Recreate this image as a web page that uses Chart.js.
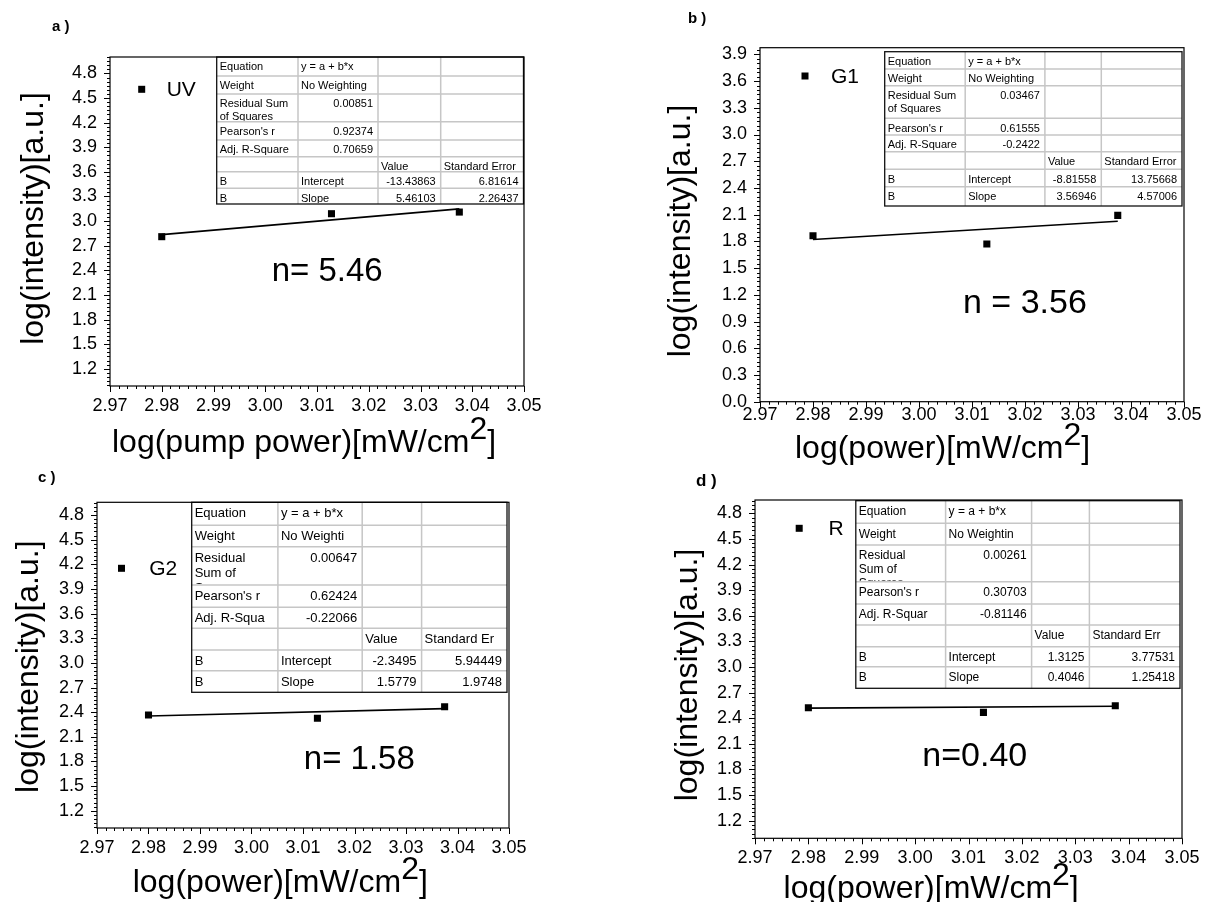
<!DOCTYPE html>
<html><head><meta charset="utf-8">
<script src="https://cdn.jsdelivr.net/npm/chart.js@4.4.0/dist/chart.umd.min.js"></script>
<style>
html,body{margin:0;padding:0;background:#fff;}
#wrap{position:relative;width:1213px;height:902px;overflow:hidden;background:#fff;}
canvas{position:absolute;left:0;top:0;}
</style></head><body><div id="wrap">
<canvas id="pa" width="1213" height="902"></canvas>
<canvas id="pb" width="1213" height="902"></canvas>
<canvas id="pc" width="1213" height="902"></canvas>
<canvas id="pd" width="1213" height="902"></canvas>
</div>
<script>
// ---------------- DATA ----------------
const xPower = [2.98, 3.0128, 3.0375];
const uvIntensity = [2.81, 3.09, 3.11];
const g1Intensity = [1.864, 1.770, 2.092];
const g2Intensity = [2.365, 2.325, 2.466];
const rIntensity = [2.523, 2.469, 2.547];

const fitX = [2.98, 3.0375];
const uvFit = [2.835, 3.149];
const g1Fit = [1.821, 2.027];
const g2Fit = [2.353, 2.443];
const rFit = [2.518, 2.541];

const seriesNames = ['UV', 'G1', 'G2', 'R'];
const slopeLabels = ['n= 5.46', 'n = 3.56', 'n= 1.58', 'n=0.40'];
const panelLetters = ['a )', 'b )', 'c )', 'd )'];

const xTickValues = [2.97, 2.98, 2.99, 3.00, 3.01, 3.02, 3.03, 3.04, 3.05];
const yTicksHigh = [1.2, 1.5, 1.8, 2.1, 2.4, 2.7, 3.0, 3.3, 3.6, 3.9, 4.2, 4.5, 4.8];
const yTicksLow = [0.0, 0.3, 0.6, 0.9, 1.2, 1.5, 1.8, 2.1, 2.4, 2.7, 3.0, 3.3, 3.6, 3.9];

const yTitleText = 'log(intensity)[a.u.]';
const xTitlePump = 'log(pump power)[mW/cm';
const xTitlePower = 'log(power)[mW/cm';
const xTitleSup = '2';
const xTitleEnd = ']';

const tableA = [
  ['Equation', 'y = a + b*x', '', ''],
  ['Weight', 'No Weighting', '', ''],
  ['Residual Sum\nof Squares', '0.00851', '', ''],
  ["Pearson's r", '0.92374', '', ''],
  ['Adj. R-Square', '0.70659', '', ''],
  ['', '', 'Value', 'Standard Error'],
  ['B', 'Intercept', '-13.43863', '6.81614'],
  ['B', 'Slope', '5.46103', '2.26437']
];
const tableB = [
  ['Equation', 'y = a + b*x', '', ''],
  ['Weight', 'No Weighting', '', ''],
  ['Residual Sum\nof Squares', '0.03467', '', ''],
  ["Pearson's r", '0.61555', '', ''],
  ['Adj. R-Square', '-0.2422', '', ''],
  ['', '', 'Value', 'Standard Error'],
  ['B', 'Intercept', '-8.81558', '13.75668'],
  ['B', 'Slope', '3.56946', '4.57006']
];
const tableC = [
  ['Equation', 'y = a + b*x', '', ''],
  ['Weight', 'No Weighti', '', ''],
  ['Residual\nSum of\nSquares', '0.00647', '', ''],
  ["Pearson's r", '0.62424', '', ''],
  ['Adj. R-Squa', '-0.22066', '', ''],
  ['', '', 'Value', 'Standard Er'],
  ['B', 'Intercept', '-2.3495', '5.94449'],
  ['B', 'Slope', '1.5779', '1.9748']
];
const tableD = [
  ['Equation', 'y = a + b*x', '', ''],
  ['Weight', 'No Weightin', '', ''],
  ['Residual\nSum of\nSquares', '0.00261', '', ''],
  ["Pearson's r", '0.30703', '', ''],
  ['Adj. R-Squar', '-0.81146', '', ''],
  ['', '', 'Value', 'Standard Err'],
  ['B', 'Intercept', '1.3125', '3.77531'],
  ['B', 'Slope', '0.4046', '1.25418']
];

// ---------------- LAYOUT ----------------
const FONT = "'Liberation Sans', Arial, Helvetica, sans-serif";
const YW = 60, XH = 40, PAGE_W = 1213, PAGE_H = 902;

const panels = {
  pa: {
    idx: 0, y: uvIntensity, fit: uvFit, yMin: 0.99, yMax: 5.0, yTicks: yTicksHigh, yDec: 1, xPad: 3,
    box: { l: 110, t: 57, r: 524, b: 386 },
    table: tableA, tFont: 11,
    cols: [216.7, 298, 378, 440.7, 523.5],
    rows: [57, 76, 94, 121.7, 140, 156.7, 171.7, 188.3, 204],
    letter: { x: 52, y: 31, size: 15 },
    legend: { sx: 141.7, sy: 89.3, tx: 166.7, size: 21 },
    nLab: { x: 271.7, y: 271.7, size: 33 },
    yTitle: { x: 34, y: 218.5 },
    xTitle: { x: 112, y: 452, text: xTitlePump }
  },
  pb: {
    idx: 1, y: g1Intensity, fit: g1Fit, yMin: 0.0, yMax: 3.975, yTicks: yTicksLow, yDec: 1, xPad: -3,
    box: { l: 760, t: 47.7, r: 1184, b: 401.7 },
    table: tableB, tFont: 11,
    cols: [884.7, 965.2, 1044.9, 1101.3, 1182],
    rows: [51.7, 69, 85.7, 118.3, 135, 151.7, 169.3, 186.7, 206],
    letter: { x: 688, y: 23, size: 15 },
    legend: { sx: 805, sy: 76, tx: 831, size: 21 },
    nLab: { x: 963, y: 303.3, size: 34 },
    yTitle: { x: 681, y: 231 },
    xTitle: { x: 795, y: 458, text: xTitlePower }
  },
  pc: {
    idx: 2, y: g2Intensity, fit: g2Fit, yMin: 0.99, yMax: 4.955, yTicks: yTicksHigh, yDec: 1, xPad: 3,
    box: { l: 97, t: 502.3, r: 509, b: 828 },
    table: tableC, tFont: 13,
    cols: [191.7, 277.9, 362.2, 421.6, 507],
    rows: [502.3, 525.3, 546.7, 585, 607.3, 628.3, 650, 670.7, 692.3],
    letter: { x: 38, y: 482, size: 15 },
    legend: { sx: 121.5, sy: 568.3, tx: 149.2, size: 21 },
    nLab: { x: 303.8, y: 760, size: 33 },
    yTitle: { x: 29, y: 666.7 },
    xTitle: { x: 132.7, y: 892, text: xTitlePower }
  },
  pd: {
    idx: 3, y: rIntensity, fit: rFit, yMin: 0.994, yMax: 4.956, yTicks: yTicksHigh, yDec: 1, xPad: 3,
    box: { l: 755, t: 500, r: 1182, b: 838.3 },
    table: tableD, tFont: 12,
    cols: [855.8, 945.6, 1031.6, 1089.4, 1180],
    rows: [500.7, 523.3, 545, 581.7, 604, 625, 646.7, 666.7, 688.3],
    letter: { x: 696, y: 486, size: 17 },
    legend: { sx: 799.2, sy: 528.3, tx: 828.5, size: 21 },
    nLab: { x: 922.3, y: 756.7, size: 34 },
    yTitle: { x: 688, y: 675 },
    xTitle: { x: 783.6, y: 898, text: xTitlePower }
  }
};

function pts(xs, ys) { return xs.map((x, i) => ({ x: x, y: ys[i] })); }

function drawTable(ctx, P) {
  const cx = P.cols, ry = P.rows, rows = P.table, fs = P.tFont;
  const L = cx[0], R = cx[cx.length - 1], T = ry[0], B = ry[ry.length - 1];
  ctx.save();
  ctx.fillStyle = '#fff';
  ctx.fillRect(L, T, R - L, B - T);
  ctx.strokeStyle = '#c6c6c6';
  ctx.lineWidth = 1.5;
  ctx.beginPath();
  for (let i = 1; i < cx.length - 1; i++) { ctx.moveTo(cx[i], T); ctx.lineTo(cx[i], B); }
  for (let j = 1; j < ry.length - 1; j++) { ctx.moveTo(L, ry[j]); ctx.lineTo(R, ry[j]); }
  ctx.stroke();
  ctx.strokeStyle = '#111';
  ctx.lineWidth = 1.3;
  ctx.strokeRect(L, T, R - L, B - T);
  ctx.fillStyle = '#000';
  ctx.font = fs + 'px ' + FONT;
  ctx.textBaseline = 'alphabetic';
  for (let r = 0; r < rows.length; r++) {
    for (let c = 0; c < rows[r].length; c++) {
      const txt = rows[r][c];
      if (!txt) continue;
      const x0 = cx[c], x1 = cx[c + 1], y0 = ry[r], y1 = ry[r + 1];
      ctx.save();
      ctx.beginPath();
      ctx.rect(x0 + 1, y0 + 1, x1 - x0 - 2, y1 - y0 - 2);
      ctx.clip();
      const numeric = /^-?[0-9.]+$/.test(txt);
      ctx.textAlign = numeric ? 'right' : 'left';
      const tx = numeric ? x1 - 5 : x0 + 3;
      const lines = txt.split('\n');
      lines.forEach((ln, k) => {
        ctx.fillText(ln, tx, y0 + 4 + fs * 0.86 + k * fs * 1.15);
      });
      ctx.restore();
    }
  }
  ctx.restore();
}

const decor = {
  id: 'decor',
  afterDatasetsDraw(chart) {
    const P = panels[chart.canvas.id];
    drawTable(chart.ctx, P);
  },
  afterDraw(chart) {
    const P = panels[chart.canvas.id];
    const ctx = chart.ctx;
    const ca = chart.chartArea;
    const xs = chart.scales.x, ys = chart.scales.y;
    ctx.save();
    // frame
    ctx.strokeStyle = '#000';
    ctx.lineWidth = 1.2;
    ctx.strokeRect(ca.left, ca.top, ca.right - ca.left, ca.bottom - ca.top);
    // major + minor tick marks
    ctx.lineWidth = 1;
    ctx.beginPath();
    const ySub = 0.05;
    for (let k = 0; ; k++) {
      const v = Math.round((P.yMin - (P.yMin % ySub) + k * ySub) * 1000) / 1000;
      if (v > P.yMax + 1e-9) break;
      if (v < P.yMin - 1e-9) continue;
      const py = Math.round(ys.getPixelForValue(v)) + 0.5;
      const major = P.yTicks.some(t => Math.abs(t - v) < 1e-6);
      ctx.moveTo(ca.left - (major ? 6 : 3), py);
      ctx.lineTo(ca.left, py);
    }
    const xSub = 0.01 / 6;
    for (let k = 0; k <= 48; k++) {
      const v = 2.97 + k * xSub;
      const px = Math.round(xs.getPixelForValue(v)) + 0.5;
      const major = (k % 6) === 0;
      ctx.moveTo(px, ca.bottom);
      ctx.lineTo(px, ca.bottom + (major ? 6 : 3));
    }
    ctx.stroke();
    ctx.fillStyle = '#000';
    // panel letter
    ctx.font = 'bold ' + P.letter.size + 'px ' + FONT;
    ctx.textAlign = 'left';
    ctx.textBaseline = 'alphabetic';
    ctx.fillText(panelLetters[P.idx], P.letter.x, P.letter.y);
    // legend
    ctx.fillRect(P.legend.sx - 3.5, P.legend.sy - 3.5, 7, 7);
    ctx.font = P.legend.size + 'px ' + FONT;
    ctx.textBaseline = 'middle';
    ctx.fillText(chart.data.datasets[0].label, P.legend.tx, P.legend.sy + 1);
    // slope annotation
    ctx.font = P.nLab.size + 'px ' + FONT;
    ctx.fillText(slopeLabels[P.idx], P.nLab.x, P.nLab.y);
    // y title
    ctx.save();
    ctx.translate(P.yTitle.x, P.yTitle.y);
    ctx.rotate(-Math.PI / 2);
    ctx.font = '32px ' + FONT;
    ctx.textAlign = 'center';
    ctx.textBaseline = 'middle';
    ctx.fillText(yTitleText, 0, 0);
    ctx.restore();
    // x title with superscript
    ctx.font = '32px ' + FONT;
    ctx.textAlign = 'left';
    ctx.textBaseline = 'alphabetic';
    let x = P.xTitle.x;
    ctx.fillText(P.xTitle.text, x, P.xTitle.y);
    x += ctx.measureText(P.xTitle.text).width;
    ctx.fillText(xTitleSup, x, P.xTitle.y - 13);
    x += ctx.measureText(xTitleSup).width;
    ctx.fillText(xTitleEnd, x, P.xTitle.y);
    ctx.restore();
  }
};

Object.keys(panels).forEach(id => {
  const P = panels[id];
  new Chart(document.getElementById(id), {
    type: 'scatter',
    data: {
      datasets: [
        { label: seriesNames[P.idx], data: pts(xPower, P.y), pointStyle: 'rect', pointRadius: 5,
          backgroundColor: '#000', borderColor: '#000', borderWidth: 0, showLine: false, order: 1 },
        { label: 'Linear fit', data: pts(fitX, P.fit), showLine: true, pointRadius: 0,
          borderColor: '#000', borderWidth: 1.6, fill: false, order: 2 }
      ]
    },
    options: {
      responsive: false, animation: false, devicePixelRatio: 1,
      layout: { padding: { left: P.box.l - YW, right: PAGE_W - P.box.r, top: P.box.t, bottom: PAGE_H - P.box.b - XH } },
      plugins: { legend: { display: false }, tooltip: { enabled: false }, title: { display: false } },
      scales: {
        x: {
          type: 'linear', min: 2.97, max: 3.05,
          afterBuildTicks: s => { s.ticks = xTickValues.map(v => ({ value: v })); },
          afterFit: s => { s.height = XH; },
          ticks: { callback: v => Number(v).toFixed(2), font: { family: FONT, size: 18 }, color: '#000', padding: P.xPad, maxRotation: 0, autoSkip: false },
          grid: { display: false, drawTicks: true, tickLength: 6 },
          border: { display: false }
        },
        y: {
          type: 'linear', min: P.yMin, max: P.yMax,
          afterBuildTicks: s => { s.ticks = P.yTicks.map(v => ({ value: v })); },
          afterFit: s => { s.width = YW; },
          ticks: { callback: v => Number(v).toFixed(P.yDec), font: { family: FONT, size: 18 }, color: '#000', padding: 7, autoSkip: false },
          grid: { display: false, drawTicks: true, tickLength: 6 },
          border: { display: false }
        }
      }
    },
    plugins: [decor]
  });
});
</script>
</body></html>
